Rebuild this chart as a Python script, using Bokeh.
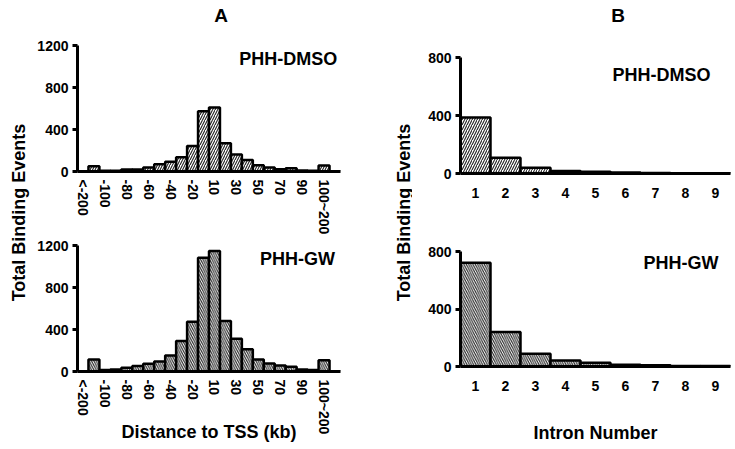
import math
from bokeh.plotting import figure
from bokeh.layouts import row, column
from bokeh.models import Range1d, FixedTicker, Label
from bokeh.embed import file_html
from bokeh.resources import INLINE

# ---------------- data ----------------
dist_categories = ["<-200", "-200~-100", "-100", "-90", "-80", "-70", "-60", "-50",
                   "-40", "-30", "-20", "-10", "10", "20", "30", "40", "50", "60",
                   "70", "80", "90", "100", "100~200", ">200"]
dmso_dist = [0, 50, 6, 8, 18, 20, 38, 68, 92, 135, 242, 575, 610, 270, 162, 110,
             60, 38, 22, 30, 10, 6, 58, 0]
gw_dist = [0, 115, 14, 20, 36, 52, 74, 96, 153, 290, 474, 1084, 1147, 481, 312, 211,
           115, 77, 58, 46, 20, 15, 106, 0]

intron_numbers = [1, 2, 3, 4, 5, 6, 7, 8, 9]
dmso_intron = [387, 109, 39, 18, 12, 7, 3, 2, 1]
gw_intron = [722, 240, 89, 42, 26, 12, 8, 4, 4]

dist_yticks = [0, 400, 800, 1200]
intron_yticks = [0, 400, 800]

FONT = "Liberation Sans"


def style(p, yticks, xticks, xlabels=None, vertical=False):
    p.xgrid.visible = False
    p.ygrid.visible = False
    p.outline_line_color = None
    p.background_fill_color = "white"
    p.border_fill_color = "white"
    for ax in (p.xaxis[0], p.yaxis[0]):
        ax.axis_line_width = 3
        ax.axis_line_color = "black"
        ax.minor_tick_line_color = None
        ax.major_label_text_font = FONT
        ax.major_label_text_font_style = "bold"
        ax.major_label_text_color = "black"
        ax.axis_label_text_font = FONT
        ax.axis_label_text_font_style = "bold"
        ax.axis_label_text_font_size = "18px"
        ax.axis_label_text_color = "black"
    p.yaxis.ticker = FixedTicker(ticks=yticks)
    p.yaxis.major_tick_line_width = 3
    p.yaxis.major_tick_line_color = "black"
    p.yaxis.major_tick_out = 5
    p.yaxis.major_tick_in = 0
    p.yaxis.major_label_standoff = 4
    p.yaxis.major_label_text_font_size = "14px"
    p.xaxis.ticker = FixedTicker(ticks=xticks)
    p.xaxis.major_tick_line_color = None
    p.xaxis.major_tick_out = 0
    p.xaxis.major_tick_in = 0
    if xlabels is not None:
        p.xaxis.major_label_overrides = {t: l for t, l in zip(xticks, xlabels)}
    if vertical:
        p.xaxis.major_label_orientation = "vertical"
        p.xaxis.major_label_standoff = 8
        p.xaxis.major_label_text_font_size = "14px"
    else:
        p.xaxis.major_label_standoff = 14
        p.xaxis.major_label_text_font_size = "14px"


def txt(p, x, y, text, align="right", size="18px", angle=0.0):
    p.add_layout(Label(x=x, y=y, text=text, text_font=FONT, text_font_style="bold",
                       text_font_size=size, text_align=align, text_baseline="middle",
                       text_color="black", angle=angle))


def make_fig(fw, fh, xr, yr, left, right, top, bottom):
    return figure(frame_width=fw, frame_height=fh, x_range=xr, y_range=yr,
                  min_border_left=left, min_border_right=right,
                  min_border_top=top, min_border_bottom=bottom,
                  output_backend="svg", toolbar_location=None)


def bars(p, x, top, pattern, scale):
    p.vbar(x=x, top=top, width=1, fill_color="white", line_color="black",
           line_width=2.5, hatch_pattern=pattern, hatch_color="#222222",
           hatch_scale=scale, hatch_weight=1.1)


def text_fig(w, h, x, y, text, size="18px", angle=0.0):
    p = figure(width=w, height=h, x_range=Range1d(0, w), y_range=Range1d(0, h),
               x_axis_type=None, y_axis_type=None, min_border=0,
               output_backend="svg", toolbar_location=None)
    p.xgrid.visible = False
    p.ygrid.visible = False
    p.outline_line_color = None
    txt(p, x, y, text, align="center", size=size, angle=angle)
    return p


n = len(dist_categories)
dist_x = list(range(n))
dist_ticks = dist_x[0::2]
dist_labels = dist_categories[0::2]

# ---------------- panel A ----------------
ta = text_fig(335, 30, 183, 15, "A", size="19px")

a1 = make_fig(263, 126, Range1d(-0.5, n - 0.5), Range1d(0, 1200), 47, 25, 15, 63)
bars(a1, dist_x, dmso_dist, "/", 5)
style(a1, dist_yticks, dist_ticks, dist_labels, vertical=True)
txt(a1, 23.2, 1076, "PHH-DMSO")

a2 = make_fig(263, 126, Range1d(-0.5, n - 0.5), Range1d(0, 1200), 47, 25, 8, 80)
bars(a2, dist_x, gw_dist, "\\", 4.5)
style(a2, dist_yticks, dist_ticks, dist_labels, vertical=True)
a2.xaxis.axis_label = "Distance to TSS (kb)"
a2.xaxis.axis_label_standoff = -15
txt(a2, 23.0, 1067, "PHH-GW")

# ---------------- panel B ----------------
tb = text_fig(322, 30, 188, 15, "B", size="19px")

b1 = make_fig(270, 116, Range1d(0.5, 9.5), Range1d(0, 800), 48, 4, 27, 63)
bars(b1, intron_numbers, dmso_intron, "/", 5)
style(b1, intron_yticks, intron_numbers)
txt(b1, 8.83, 676, "PHH-DMSO")

b2 = make_fig(270, 115, Range1d(0.5, 9.5), Range1d(0, 800), 48, 4, 15, 82)
bars(b2, intron_numbers, gw_intron, "\\", 4.5)
style(b2, intron_yticks, intron_numbers)
b2.xaxis.axis_label = "Intron Number"
b2.xaxis.axis_label_standoff = 29
txt(b2, 9.1, 717, "PHH-GW")

# ---------------- shared y labels ----------------
l1 = text_fig(30, 448, 18, 236, "Total Binding Events", angle=math.pi / 2)
l2 = text_fig(47, 448, 38, 236, "Total Binding Events", angle=math.pi / 2)

layout = row(l1, column(ta, a1, a2), l2, column(tb, b1, b2))

open("out.html", "w").write(file_html(layout, INLINE))
